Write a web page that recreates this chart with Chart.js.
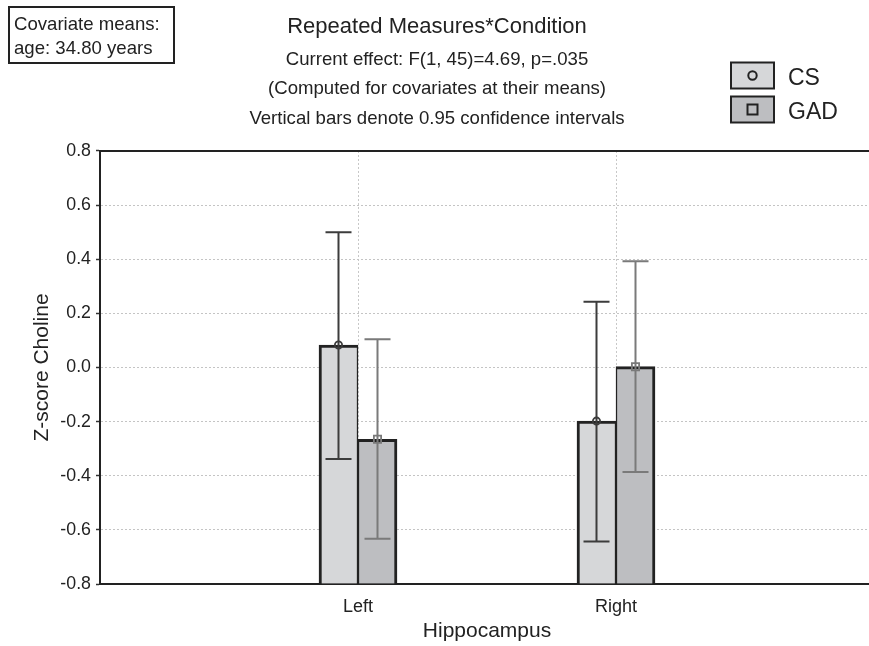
<!DOCTYPE html>
<html>
<head>
<meta charset="utf-8">
<script src="https://cdn.jsdelivr.net/npm/chart.js@4.4.1/dist/chart.umd.min.js"></script>
<style>
  html, body { margin: 0; padding: 0; background: #fff; overflow: hidden; }
  #wrap { width: 869px; height: 646px; overflow: hidden; }
</style>
</head>
<body>
<div id="wrap"><canvas id="chart" width="876" height="646"></canvas></div>
<script>
// data
const categories = ["Left", "Right"];
const seriesNames = ["CS", "GAD"];
const csMean = [0.083, -0.198];
const csLower = [-0.338, -0.643];
const csUpper = [0.5, 0.243];
const gadMean = [-0.265, 0.003];
const gadLower = [-0.633, -0.386];
const gadUpper = [0.104, 0.393];
const yMin = -0.8;
const yMax = 0.8;
const yStep = 0.2;

const titleText = "Repeated Measures*Condition";
const subtitleLines = [
  "Current effect: F(1, 45)=4.69, p=.035",
  "(Computed for covariates at their means)",
  "Vertical bars denote 0.95 confidence intervals",
];
const covariateLines = ["Covariate means:", "age: 34.80 years"];

const FONT = '"Liberation Sans", Arial, Helvetica, sans-serif';
const INK = "#222";

// error bars + mean markers
const errorBars = {
  id: "errorBars",
  afterDatasetsDraw(chart) {
    const ctx = chart.ctx;
    const ys = chart.scales.y;
    chart.data.datasets.forEach((ds, i) => {
      const meta = chart.getDatasetMeta(i);
      meta.data.forEach((bar, j) => {
        const x = bar.x;
        const lo = ys.getPixelForValue(ds.ciLower[j]);
        const hi = ys.getPixelForValue(ds.ciUpper[j]);
        const m = ys.getPixelForValue(ds.data[j].y);
        ctx.save();
        ctx.strokeStyle = ds.errorColor;
        ctx.lineWidth = 2;
        ctx.beginPath();
        ctx.moveTo(x, lo);
        ctx.lineTo(x, hi);
        ctx.moveTo(x - 13, lo);
        ctx.lineTo(x + 13, lo);
        ctx.moveTo(x - 13, hi);
        ctx.lineTo(x + 13, hi);
        ctx.stroke();
        ctx.lineWidth = 1.8;
        ctx.beginPath();
        if (ds.marker === "circle") {
          ctx.arc(x, m, 3.6, 0, Math.PI * 2);
        } else {
          ctx.rect(x - 3.6, m - 3.6, 7.2, 7.2);
        }
        ctx.stroke();
        ctx.restore();
      });
    });
  },
};

// frame top line, covariate box, legend
const decorations = {
  id: "decorations",
  afterDraw(chart) {
    const ctx = chart.ctx;
    const a = chart.chartArea;
    ctx.save();
    ctx.strokeStyle = INK;
    ctx.lineWidth = 2;
    ctx.beginPath();
    ctx.moveTo(a.left - 1, a.top);
    ctx.lineTo(chart.width, a.top);
    ctx.stroke();

    // covariate box
    ctx.strokeRect(9, 7, 165, 56);
    ctx.fillStyle = INK;
    ctx.font = "18.6px " + FONT;
    ctx.textAlign = "left";
    ctx.textBaseline = "alphabetic";
    ctx.fillText(covariateLines[0], 14, 29.5);
    ctx.fillText(covariateLines[1], 14, 53.5);

    // legend
    const rows = [62.5, 96.5];
    chart.data.datasets.forEach((ds, i) => {
      const y = rows[i];
      ctx.fillStyle = ds.backgroundColor;
      ctx.fillRect(731, y, 43, 26);
      ctx.strokeStyle = INK;
      ctx.lineWidth = 2;
      ctx.strokeRect(731, y, 43, 26);
      ctx.beginPath();
      if (ds.marker === "circle") {
        ctx.arc(752.5, y + 13, 4.2, 0, Math.PI * 2);
      } else {
        ctx.rect(747.5, y + 8, 10, 10);
      }
      ctx.stroke();
      ctx.fillStyle = INK;
      ctx.font = "23px " + FONT;
      ctx.textBaseline = "alphabetic";
      ctx.fillText(ds.label, 788, y + 22);
    });
    ctx.restore();
  },
};

const yGridColor = (c) =>
  Math.abs(c.tick.value) > 0.79 ? "rgba(0,0,0,0)" : "#c4c4c4";

new Chart(document.getElementById("chart"), {
  type: "bar",
  data: {
    datasets: [
      {
        label: seriesNames[0],
        data: csMean.map((v, j) => ({ x: j + 1, y: v })),
        ciLower: csLower,
        ciUpper: csUpper,
        base: yMin,
        backgroundColor: "#d6d7d9",
        borderColor: INK,
        borderWidth: { left: 3, right: 1.5, top: 3, bottom: 0 },
        borderSkipped: "start",
        errorColor: "#3c3c3c",
        marker: "circle",
      },
      {
        label: seriesNames[1],
        data: gadMean.map((v, j) => ({ x: j + 1, y: v })),
        ciLower: gadLower,
        ciUpper: gadUpper,
        base: yMin,
        backgroundColor: "#bdbec1",
        borderColor: INK,
        borderWidth: { left: 1.5, right: 3, top: 3, bottom: 0 },
        borderSkipped: "start",
        errorColor: "#7a7a7a",
        marker: "square",
      },
    ],
  },
  options: {
    responsive: false,
    animation: false,
    barThickness: 39,
    layout: { padding: { left: 0, right: 2, top: 0, bottom: 0 } },
    plugins: {
      legend: { display: false },
      tooltip: { enabled: false },
      title: {
        display: true,
        text: titleText,
        color: INK,
        font: { family: FONT, size: 22, weight: "normal", lineHeight: 1.2 },
        padding: { top: 14, bottom: 0 },
      },
      subtitle: {
        display: true,
        text: subtitleLines,
        color: INK,
        font: { family: FONT, size: 18.6, weight: "normal", lineHeight: 1.6 },
        padding: { top: 4.3, bottom: 17 },
      },
    },
    scales: {
      x: {
        type: "linear",
        min: 0,
        max: 3,
        offset: false,
        afterBuildTicks: (axis) => {
          axis.ticks = categories.map((c, i) => ({ value: i + 1 }));
        },
        afterFit: (axis) => {
          axis.height = 62;
        },
        ticks: {
          callback: (v) => categories[v - 1],
          autoSkip: false,
          maxRotation: 0,
          color: INK,
          padding: 12,
          font: { family: FONT, size: 18 },
        },
        grid: { offset: false, color: "#c8c8c8", drawTicks: false, lineWidth: 1 },
        border: { display: true, color: INK, width: 2, dash: [2, 2] },
        title: {
          display: true,
          text: "Hippocampus",
          color: INK,
          font: { family: FONT, size: 21 },
          padding: { top: 0, bottom: 2.4 },
        },
      },
      y: {
        min: yMin,
        max: yMax,
        afterFit: (axis) => {
          axis.width = 100;
        },
        ticks: {
          stepSize: yStep,
          color: INK,
          padding: 5,
          font: { family: FONT, size: 17.8 },
          callback: (v) => (Math.abs(v) < 1e-9 ? "0.0" : v.toFixed(1)),
        },
        grid: {
          color: yGridColor,
          tickColor: "#333",
          tickLength: 4,
          tickWidth: 1.5,
          lineWidth: 1,
        },
        border: { display: true, color: INK, width: 2, dash: [2, 2] },
        title: {
          display: true,
          text: "Z-score Choline",
          color: INK,
          font: { family: FONT, size: 21 },
          padding: { top: 30, bottom: 0 },
        },
      },
    },
  },
  plugins: [errorBars, decorations],
});
</script>
</body>
</html>
